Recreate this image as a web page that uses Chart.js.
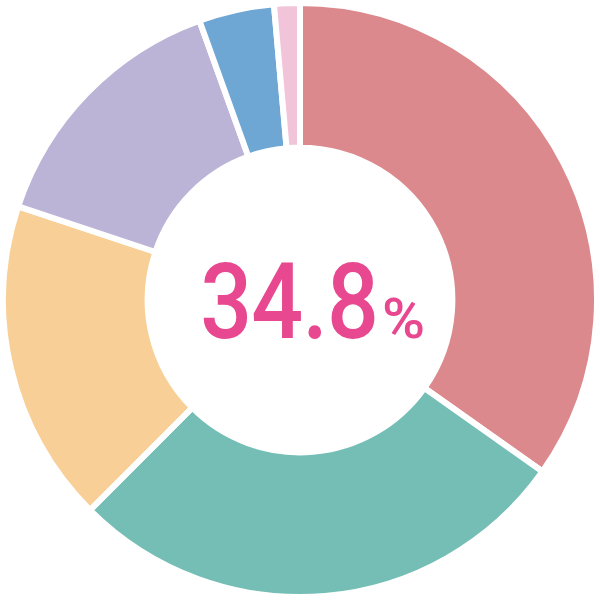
<!DOCTYPE html>
<html>
<head>
<meta charset="utf-8">
<script src="https://cdn.jsdelivr.net/npm/chart.js@4/dist/chart.umd.min.js"></script>
<style>
  html, body { margin: 0; padding: 0; background: #ffffff; }
  #wrap { position: relative; width: 600px; height: 600px; }
  #c { position: absolute; left: 0; top: 0; }
  #center {
    position: absolute; left: 0; top: 0; width: 600px; height: 600px;
    display: flex; align-items: center; justify-content: center;
    pointer-events: none;
  }
  #label {
    font-family: Roboto, "Noto Sans", sans-serif; font-weight: 500;
    color: #E8488F; white-space: nowrap; line-height: 1;
    transform: translate(9px, 2px) scaleX(0.87);
    display: flex; align-items: baseline;
  }
  #num { font-size: 105px; letter-spacing: -1px; }
  #unit { font-size: 56px; margin-left: 5px; display: inline-block; transform: scaleX(1.2); transform-origin: 0 100%; }
</style>
</head>
<body>
<div id="wrap">
  <canvas id="c" width="600" height="600"></canvas>
  <div id="center"><div id="label"><span id="num"></span><span id="unit"></span></div></div>
</div>
<script>
const categories = ["A", "B", "C", "D", "E", "F"];
const values = [34.8, 27.7, 17.6, 14.4, 4.1, 1.4];
const colors = ["#DB898D", "#74BEB6", "#F8CF96", "#BCB4D6", "#6FA7D4", "#F1C4D9"];
const centerValue = "34.8";
const centerUnit = "%";

document.getElementById("num").textContent = centerValue;
document.getElementById("unit").textContent = centerUnit;

new Chart(document.getElementById("c"), {
  type: "doughnut",
  data: {
    labels: categories,
    datasets: [{
      data: values,
      backgroundColor: colors,
      borderColor: "#ffffff",
      borderWidth: 6,
      hoverOffset: 0
    }]
  },
  options: {
    responsive: false,
    animation: false,
    cutout: "51.3%",
    layout: { padding: 0 },
    plugins: { legend: { display: false }, tooltip: { enabled: false } }
  }
});
</script>
</body>
</html>
